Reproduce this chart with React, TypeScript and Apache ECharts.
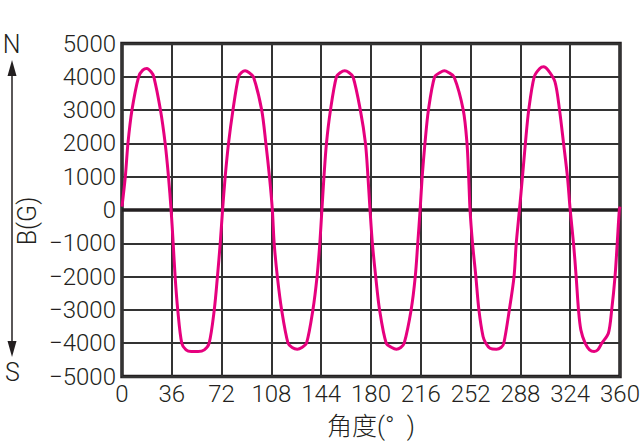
import React, { useEffect, useRef } from "react";
import * as echarts from "echarts";

const xTicks = [0, 36, 72, 108, 144, 180, 216, 252, 288, 324, 360];
const yTicks = [-5000, -4000, -3000, -2000, -1000, 0, 1000, 2000, 3000, 4000, 5000];

const angles = [
  0, 2.4, 4.3, 7.2, 12, 15, 18, 21, 23, 27.8, 31.2, 33.6, 35.5, 37, 38.4, 40.3, 43.2, 46.3, 50, 55, 59.5, 63, 66.7, 69, 71, 72.7,
  74.6, 77, 80.2, 84.2, 86.5, 89, 92, 95, 101, 104, 106.6, 108.7, 110, 112.3, 115.4, 120, 123, 126.7, 130, 133.4, 138, 141, 143, 144.5,
  146, 147.8, 150.7, 155, 158, 161, 164, 167, 172.3, 176, 177.8, 179.3, 181, 183.4, 186.2, 191, 195, 198.3, 201.5, 204, 209, 212, 213.8, 215.5,
  217, 219, 221.5, 226, 230, 233, 236, 240, 246.7, 249.4, 250.6, 251.6, 253.4, 255.8, 258, 261, 263, 266, 270.7, 274, 276, 280, 283.4, 285, 287.3,
  289.5, 291.6, 294, 298, 302, 304.8, 308, 313, 316.3, 319.2, 322, 324, 326.4, 328.3, 330, 331.7, 334.8, 338, 341.3, 344, 346.8, 351.6, 354, 356.4, 358, 359.5, 360,
];
const fieldG = [
  100, 1000, 2000, 3000, 4000, 4200, 4250, 4150, 4000, 3000, 2000, 1000, 0, -1000, -2000, -3000, -4000, -4200, -4250, -4250, -4200, -4000, -3000, -2000, -1000, 0,
  1000, 2000, 3000, 4000, 4130, 4180, 4120, 4000, 3000, 2000, 1000, 0, -1000, -2000, -3000, -4000, -4130, -4180, -4130, -4000, -3000, -2000, -1000, 0,
  1000, 2000, 3000, 4000, 4130, 4180, 4130, 4000, 3000, 2000, 1000, 0, -1000, -2000, -3000, -4000, -4130, -4180, -4130, -4000, -3000, -2000, -1000, 0,
  1000, 2000, 3000, 4000, 4130, 4180, 4130, 4000, 3000, 2000, 1000, 0, -1000, -2000, -3000, -3800, -4000, -4150, -4180, -4130, -4000, -3000, -2000, -1000, 0,
  1000, 2000, 3000, 4000, 4250, 4300, 4200, 3850, 3000, 2000, 1000, 0, -1000, -2000, -3000, -3600, -4000, -4200, -4250, -4200, -4000, -3700, -3000, -2000, -1000, 0, 100,
];

const xName = "角度(°  )";
const yName = "B(G)";
const northLabel = "N";
const southLabel = "S";

const INK = "#231f20";
const FONT = "Roboto, 'Noto Sans CJK SC', sans-serif";

export default function App() {
  const ref = useRef<HTMLDivElement>(null);
  useEffect(() => {
    if (!ref.current) return;
    const chart = echarts.init(ref.current, undefined, { renderer: "svg" });
    const data = angles.map((a, i) => [a, fieldG[i]]);
    chart.setOption({
      animation: false,
      backgroundColor: "#ffffff",
      grid: {
        left: 122,
        right: 20,
        top: 43.5,
        bottom: 66.5,
        outerBoundsMode: "none",
        containLabel: false,
        show: true,
        borderColor: INK,
        borderWidth: 3.5,
        backgroundColor: "transparent",
      },
      xAxis: {
        type: "value",
        min: xTicks[0],
        max: xTicks[xTicks.length - 1],
        interval: 36,
        name: xName,
        nameLocation: "middle",
        nameGap: 37,
        nameTextStyle: { color: INK, fontSize: 25, fontFamily: FONT, fontWeight: 300 },
        axisLine: { show: false },
        axisTick: { show: false },
        axisLabel: { color: INK, fontSize: 24, fontFamily: FONT, fontWeight: 300, margin: 5 },
        splitLine: { show: true, lineStyle: { color: "#333", width: 2 } },
      },
      yAxis: {
        type: "value",
        min: yTicks[0],
        max: yTicks[yTicks.length - 1],
        interval: 1000,
        axisLine: { show: false },
        axisTick: { show: false },
        axisLabel: {
          color: INK,
          fontSize: 24,
          fontFamily: FONT,
          fontWeight: 300,
          margin: 6,
          formatter: (v: number) => (v < 0 ? "\u2212" + Math.abs(v) : String(v)),
        },
        splitLine: { show: true, lineStyle: { color: "#333", width: 2 } },
      },
      series: [
        {
          type: "line",
          data,
          smooth: 0.3,
          showSymbol: false,
          lineStyle: { color: "#e6007e", width: 3 },
          z: 5,
          markLine: {
            silent: true,
            symbol: "none",
            label: { show: false },
            lineStyle: { color: INK, width: 3.5, type: "solid" },
            data: [{ yAxis: 0 }],
            z: 3,
          },
        },
      ],
      graphic: [
        { type: "line", shape: { x1: 12, y1: 70, x2: 12, y2: 347 }, style: { stroke: INK, lineWidth: 1.5 } },
        { type: "polygon", shape: { points: [[12, 60], [7.5, 76], [16.5, 76]] }, style: { fill: INK } },
        { type: "polygon", shape: { points: [[12, 357], [7.5, 341], [16.5, 341]] }, style: { fill: INK } },
        {
          type: "text",
          x: 11.5,
          y: 44,
          style: { text: northLabel, fill: INK, font: `300 25px ${FONT}`, align: "center", verticalAlign: "middle" },
        },
        {
          type: "text",
          x: 12.5,
          y: 372,
          style: { text: southLabel, fill: INK, font: `300 25px ${FONT}`, align: "center", verticalAlign: "middle" },
        },
        {
          type: "text",
          x: 27,
          y: 221,
          rotation: Math.PI / 2,
          style: { text: yName, fill: INK, font: `300 25px ${FONT}`, align: "center", verticalAlign: "middle" },
        },
      ],
    });
    return () => chart.dispose();
  }, []);
  return <div ref={ref} style={{ position: "fixed", left: 0, top: 0, width: 640, height: 443 }} />;
}
